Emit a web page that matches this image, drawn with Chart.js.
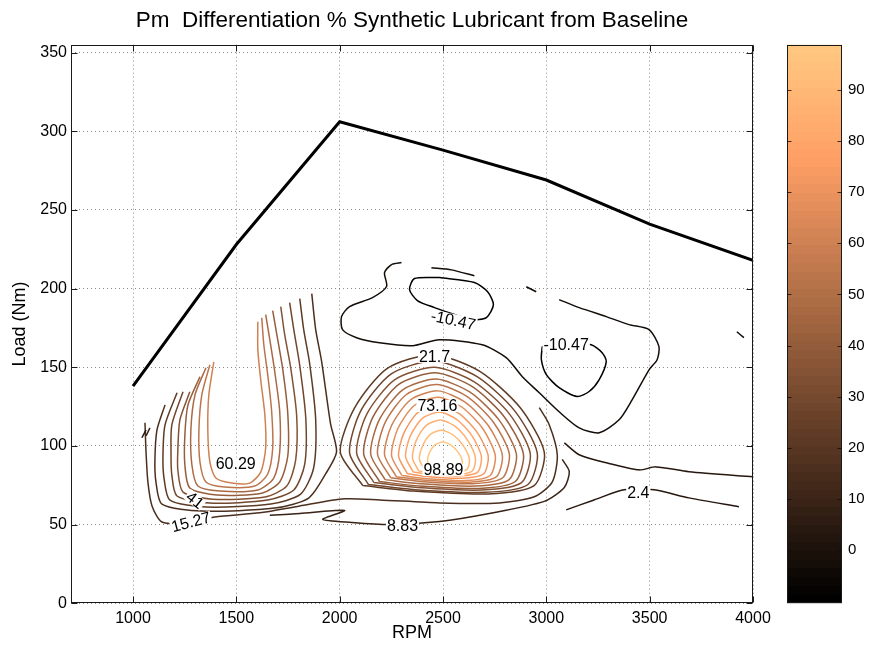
<!DOCTYPE html>
<html>
<head>
<meta charset="utf-8">
<title>Pm Differentiation % Synthetic Lubricant from Baseline</title>
<script src="https://cdn.jsdelivr.net/npm/chart.js@4.4.1/dist/chart.umd.min.js"></script>
<style>
  html, body { margin: 0; padding: 0; background: #fff; }
  #wrap { position: relative; width: 869px; height: 650px; }
  #plot { position: absolute; left: 0; top: 0; width: 869px; height: 650px; }
  #bar { position: absolute; left: 770px; top: 0; width: 99px; height: 650px; }
</style>
</head>
<body>
<div id="wrap">
  <canvas id="plot" width="869" height="650"></canvas>
  <canvas id="bar" width="99" height="650"></canvas>
</div>
<script>
// contour levels (Pm difference, %)
const LEVELS = [-10.47, -4.03, 2.4, 8.83, 15.27, 21.7, 28.13, 34.57, 41, 47.43,
                53.86, 60.29, 66.73, 73.16, 79.59, 86.03, 92.46, 98.89];
const RPM_TICKS = [1000, 1500, 2000, 2500, 3000, 3500, 4000];
const LOAD_TICKS = [0, 50, 100, 150, 200, 250, 300, 350];
const BAR_TICKS = [0, 10, 20, 30, 40, 50, 60, 70, 80, 90];

// full load curve
const torqueRpm = [1000, 1500, 2000, 2500, 3000, 3500, 4000];
const torqueLoad = [138, 228, 306, 288, 269, 241, 218];

// contour lines, flat [rpm, load, rpm, load, ...]
// rings around the main peak near 2500 rpm
const center5  = [2112,74.8, 2003,96.1, 2073,124.4, 2229,149.2, 2453,158, 2678,147.4, 2873,124.4, 2990,96.1, 2941,74.8, 2717,69.5, 2356,71.3, 2112,74.8];
const center6  = [2139,75.5, 2048,95.6, 2102,122.3, 2248,145.7, 2457,154, 2665,144, 2847,122.3, 2956,95.6, 2911,75.5, 2702,70.5, 2366,72.2, 2139,75.5];
const center7  = [2166,76.7, 2082,95.4, 2132,120.4, 2267,142.2, 2460,150, 2653,140.6, 2821,120.4, 2922,95.4, 2880,76.7, 2687,72, 2376,73.6, 2166,76.7];
const center8  = [2193,77.4, 2116,95, 2162,118.6, 2286,139.2, 2464,146.5, 2642,137.7, 2796,118.6, 2889,95, 2850,77.4, 2673,73, 2387,74.5, 2193,77.4];
const center9  = [2220,78.6, 2150,94.9, 2192,116.7, 2305,135.7, 2467,142.5, 2629,134.3, 2770,116.7, 2855,94.9, 2820,78.6, 2658,74.5, 2397,75.9, 2220,78.6];
const center10 = [2247,79.8, 2183,94.9, 2221,115.1, 2323,132.7, 2470,139, 2617,131.4, 2744,115.1, 2821,94.9, 2789,79.8, 2642,76, 2406,77.3, 2247,79.8];
const center11 = [2274,80.5, 2217,94.4, 2251,113, 2342,129.2, 2474,135, 2605,128, 2719,113, 2787,94.4, 2759,80.5, 2627,77, 2417,78.2, 2274,80.5];
const center12 = [2301,81.2, 2251,93.9, 2281,110.9, 2361,125.7, 2477,131, 2592,124.6, 2693,110.9, 2753,93.9, 2728,81.2, 2612,78, 2427,79.1, 2301,81.2];
const center13 = [2328,82.3, 2285,93.5, 2311,108.3, 2380,121.4, 2480,126, 2580,120.4, 2667,108.3, 2719,93.5, 2697,82.3, 2597,79.5, 2437,80.4, 2328,82.3];
const center14 = [2356,83.4, 2319,93.2, 2341,106.1, 2400,117.5, 2484,121.5, 2569,116.6, 2642,106.1, 2686,93.2, 2668,83.4, 2583,81, 2447,81.8, 2356,83.4];
const center15 = [2383,84.1, 2352,92.4, 2370,103.4, 2419,113.1, 2489,116.5, 2559,112.4, 2620,103.4, 2657,92.4, 2642,84.1, 2572,82, 2459,82.7, 2383,84.1];
const center16 = [2410,85.1, 2386,91.5, 2401,100, 2439,107.4, 2495,110, 2551,106.8, 2599,100, 2628,91.5, 2616,85.1, 2560,83.5, 2471,84, 2410,85.1];
const center17 = [2442,86, 2425,90.3, 2435,95.9, 2462,100.8, 2501,102.5, 2540,100.4, 2574,95.9, 2594,90.3, 2586,86, 2547,85, 2484,85.4, 2442,86];

// open U-shaped lines of the low-rpm hump, ending at the map edge
const left4  = [1155,126.1, 1116,110.2, 1106,91, 1111,77.1, 1140,63.1, 1333,58.6, 1686,60.5, 1850,66.9, 1932,82.2, 1985,96.2, 1956,114, 1913,153.5, 1884,173.9, 1865,196.8];
const left5  = [1213,133.8, 1155,113.4, 1145,94.3, 1150,79.6, 1179,65.6, 1353,61.2, 1667,63.1, 1811,69.4, 1874,86, 1884,116.6, 1855,152.2, 1826,173.9, 1807,193.6];
const left6  = [1242,134.4, 1188,113.4, 1184,94.3, 1188,81.5, 1213,68.2, 1372,63.7, 1652,65.6, 1778,72, 1831,88.5, 1836,117.8, 1807,151, 1778,173.9, 1758,191.1];
const left7  = [1275,134.4, 1227,116.6, 1217,97.5, 1217,84.7, 1242,70.7, 1386,66.2, 1638,67.5, 1744,74.5, 1787,91, 1792,119.1, 1763,149.7, 1734,170.7, 1715,188.6];
const left8  = [1324,144, 1266,126.1, 1251,107, 1251,87.9, 1275,73.3, 1406,68.8, 1623,70, 1710,77.1, 1749,93.6, 1749,120.4, 1725,148.4, 1696,170.7, 1676,186];
const left9  = [1353,149.7, 1300,132.5, 1280,110.2, 1285,87.9, 1314,74.5, 1420,71.3, 1604,72, 1681,79.6, 1710,96.2, 1710,121.7, 1686,147.1, 1662,167.5, 1642,183.5];
const left10 = [1372,151.6, 1333,132.5, 1319,110.2, 1324,89.8, 1353,77.1, 1444,73.9, 1589,74.5, 1652,82.2, 1676,98.7, 1671,121.7, 1652,145.2, 1633,164.3, 1623,181.5];
const left11 = [1391,153.5, 1367,132.5, 1362,110.2, 1372,89.8, 1401,79.6, 1478,76.4, 1565,76.4, 1618,83.4, 1642,98.7, 1638,119.8, 1618,142, 1604,161.2, 1604,179];

// outer lines
const band4  = [1058,114.7, 1063,96.3, 1072,77.2, 1092,61.9, 1140,51.7, 1275,51.1, 1396,54.9, 1613,57.5, 1807,61.9, 2024,66.4, 2193,65.7, 2483,63.8, 2773,63.8, 2942,67.7, 3029,77.2, 3053,94.4, 3014,113.5, 2966,124.3];
const band3  = [1662,55.9, 1807,57.1, 2024,59, 1918,53.3, 2058,51.4, 2241,50.1, 2483,52, 2724,57.1, 2990,64.8, 3087,73.6, 3111,83.7, 3077,91.4];
const shelf1 = [2299,216.6, 2251,215.3, 2217,210.2, 2227,201.3, 2159,194.3, 2048,188.6, 2009,182.2, 2014,173.9, 2082,168.8, 2193,165.6, 2352,163.7, 2483,167.5, 2690,164.3, 2806,156.1, 2884,144, 2966,133.8, 3062,121.7, 3159,111.5, 3256,108.4, 3352,116.6, 3415,129.3, 3497,148.4, 3536,154.8, 3545,163.1, 3497,173.9, 3400,177.1, 3290,182.2, 3159,187.9, 3062,193];
const tail2  = [3087,102, 3159,94.4, 3290,89.3, 3449,84.8, 3531,86.7, 3690,83.6, 4000,80.4];
const low2   = [3096,59.4, 3231,65.7, 3376,72.1, 3521,72.1, 3690,67, 3932,61.3];
const pitTop0   = [2483,207, 2362,206.4, 2338,199.4, 2376,192.4, 2459,187.9, 2555,183.5, 2637,180.3, 2710,181.6, 2744,189.8, 2715,198.1, 2652,203.9, 2483,207];
const pitRight0 = [2980,163.1, 3111,165.6, 3217,164.3, 3270,159.3, 3290,153.6, 3256,142.2, 3207,134.6, 3149,131.4, 3062,137, 3000,145.3, 2976,154.8, 2980,163.1];
const stub1a = [2444,213.2, 2541,211.9, 2652,208.1];
const stub1b = [2903,201.2, 2951,198];
const stub1c = [3922,172.6, 3956,168.8];
const edge2  = [1043,105.2, 1063,110.2];
const edge3  = [1063,106.4, 1082,111.5];

// level index for each line
const CONTOURS = [
  [0, pitTop0], [0, pitRight0], [1, shelf1], [1, stub1a], [1, stub1b], [1, stub1c],
  [2, tail2], [2, low2], [2, edge2], [3, edge3], [3, band3], [4, band4],
  [4, left4], [5, left5], [6, left6], [7, left7], [8, left8], [9, left9], [10, left10], [11, left11],
  [5, center5], [6, center6], [7, center7], [8, center8], [9, center9], [10, center10], [11, center11],
  [12, center12], [13, center13], [14, center14], [15, center15], [16, center16], [17, center17]
];

// inline contour labels
const labelLevel = [0, 0, 5, 13, 17, 11, 4, 3, 2, 8];
const labelRpm   = [2550, 3096, 2459, 2473, 2502, 1497, 1280, 2304, 3445, 1300];
const labelLoad  = [180, 164.3, 156.6, 125.4, 84.8, 88.8, 51.7, 49.2, 70.2, 65.7];
const labelTilt  = [12, 0, 0, 0, 0, 0, -15, 0, 0, 38];

const CB_MIN = LEVELS[0];
const CB_MAX = LEVELS[LEVELS.length - 1];
const FONT = '"Liberation Sans", Arial, Helvetica, sans-serif';

Chart.defaults.font.family = FONT;
Chart.defaults.color = '#000';

function copperAt(t) {
  t = Math.max(0, Math.min(1, t));
  const r = Math.round(255 * Math.min(1, 1.25 * t));
  const g = Math.round(255 * 0.7812 * t);
  const b = Math.round(255 * 0.4975 * t);
  return 'rgb(' + r + ',' + g + ',' + b + ')';
}

function copper(level) {
  return copperAt((level - CB_MIN) / (CB_MAX - CB_MIN));
}

function toPoints(flat) {
  const pts = [];
  for (let i = 0; i < flat.length; i += 2) pts.push({ x: flat[i], y: flat[i + 1] });
  return pts;
}

const datasets = CONTOURS.map(([lv, line]) => ({
  data: toPoints(line),
  showLine: true,
  borderColor: copper(LEVELS[lv]),
  borderWidth: 1.5,
  pointRadius: 0,
  tension: 0.25,
  fill: false
}));

datasets.push({
  data: torqueRpm.map((r, i) => ({ x: r, y: torqueLoad[i] })),
  showLine: true,
  borderColor: '#000',
  borderWidth: 3,
  pointRadius: 0,
  tension: 0
});

const contourLabels = {
  id: 'contourLabels',
  afterDatasetsDraw(chart) {
    const { ctx, scales: { x, y } } = chart;
    ctx.save();
    ctx.font = '16px ' + FONT;
    ctx.textAlign = 'center';
    ctx.textBaseline = 'middle';
    labelLevel.forEach((lv, i) => {
      const text = String(LEVELS[lv]);
      const px = x.getPixelForValue(labelRpm[i]);
      const py = y.getPixelForValue(labelLoad[i]);
      const w = ctx.measureText(text).width;
      ctx.save();
      ctx.translate(px, py);
      ctx.rotate(labelTilt[i] * Math.PI / 180);
      ctx.fillStyle = '#fff';
      ctx.fillRect(-w / 2 - 1, -6, w + 2, 12);
      ctx.fillStyle = '#000';
      ctx.fillText(text, 0, 1);
      ctx.restore();
    });
    ctx.restore();
  }
};

// axes box with inward ticks on all four sides
const frameTicks = {
  id: 'frameTicks',
  afterDraw(chart) {
    const { ctx, chartArea: a, scales: { x, y } } = chart;
    const L = Math.round(a.left) + 0.5, R = Math.round(a.right) - 0.5;
    const T = Math.round(a.top) + 0.5, B = Math.round(a.bottom) - 0.5;
    ctx.save();
    ctx.strokeStyle = '#1a1a1a';
    ctx.lineWidth = 1;
    ctx.strokeRect(L, T, R - L, B - T);
    ctx.beginPath();
    RPM_TICKS.forEach(v => {
      const px = Math.round(x.getPixelForValue(v)) + 0.5;
      ctx.moveTo(px, B); ctx.lineTo(px, B - 6);
      ctx.moveTo(px, T); ctx.lineTo(px, T + 6);
    });
    LOAD_TICKS.forEach(v => {
      const py = Math.round(y.getPixelForValue(v)) + 0.5;
      ctx.moveTo(L, py); ctx.lineTo(L + 6, py);
      ctx.moveTo(R, py); ctx.lineTo(R - 6, py);
    });
    ctx.stroke();
    ctx.restore();
  }
};

new Chart(document.getElementById('plot'), {
  type: 'scatter',
  data: { datasets },
  options: {
    responsive: false,
    animation: false,
    layout: { padding: { left: 0, right: 116, top: 0, bottom: 0 } },
    plugins: {
      legend: { display: false },
      tooltip: { enabled: false },
      title: {
        display: true,
        fullSize: false,
        text: 'Pm  Differentiation % Synthetic Lubricant from Baseline',
        color: '#000',
        font: { size: 22.5, weight: 'normal' },
        padding: { top: 7.5, bottom: 10.2 }
      }
    },
    scales: {
      x: {
        type: 'linear',
        min: 700,
        max: 4000,
        afterBuildTicks: s => { s.ticks = RPM_TICKS.map(v => ({ value: v })); },
        afterFit: s => { s.height = 46.7; },
        grid: { color: 'rgba(0,0,0,0.45)', drawTicks: false },
        border: { display: false, dash: [1, 3] },
        ticks: { font: { size: 16 }, padding: 6, autoSkip: false, maxRotation: 0, callback: v => String(v) },
        title: { display: true, text: 'RPM', font: { size: 18 }, padding: { top: 0, bottom: 6 } }
      },
      y: {
        type: 'linear',
        min: 0,
        max: 355,
        afterBuildTicks: s => { s.ticks = LOAD_TICKS.map(v => ({ value: v })); },
        afterFit: s => { s.width = 71; },
        grid: { color: 'rgba(0,0,0,0.45)', drawTicks: false },
        border: { display: false, dash: [1, 3] },
        ticks: { font: { size: 16 }, padding: 4, callback: v => String(v) },
        title: { display: true, text: 'Load (Nm)', font: { size: 18 }, padding: { top: 9, bottom: 0 } }
      }
    }
  },
  plugins: [contourLabels, frameTicks]
});

// colour bar
function copperBands(chart) {
  if (!chart.chartArea) return copperAt(1);
  const y = chart.scales.y;
  const g = chart.ctx.createLinearGradient(0, y.getPixelForValue(CB_MIN), 0, y.getPixelForValue(CB_MAX));
  const n = 64;
  for (let k = 0; k < n; k++) {
    const c = copperAt(k / (n - 1));
    g.addColorStop(k / n, c);
    g.addColorStop((k + 1) / n, c);
  }
  return g;
}

const barFrame = {
  id: 'barFrame',
  afterDraw(chart) {
    const { ctx, chartArea: a, scales: { y } } = chart;
    const L = Math.round(a.left) + 0.5, R = Math.round(a.right) - 0.5;
    const T = Math.round(a.top) + 0.5, B = Math.round(a.bottom) - 0.5;
    ctx.save();
    ctx.strokeStyle = '#1a1a1a';
    ctx.lineWidth = 1;
    ctx.strokeRect(L, T, R - L, B - T);
    ctx.strokeStyle = 'rgba(20,10,5,0.8)';
    ctx.beginPath();
    BAR_TICKS.forEach(v => {
      const py = Math.round(y.getPixelForValue(v)) + 0.5;
      ctx.moveTo(L, py); ctx.lineTo(L + 4, py);
      ctx.moveTo(R, py); ctx.lineTo(R - 4, py);
    });
    ctx.stroke();
    ctx.restore();
  }
};

new Chart(document.getElementById('bar'), {
  type: 'bar',
  data: {
    labels: [''],
    datasets: [{
      data: [[CB_MIN, CB_MAX]],
      backgroundColor: c => copperBands(c.chart),
      borderWidth: 0,
      barPercentage: 1,
      categoryPercentage: 1
    }]
  },
  options: {
    responsive: false,
    animation: false,
    layout: { padding: { left: 17, right: 0, top: 44.7, bottom: 46.7 } },
    plugins: { legend: { display: false }, tooltip: { enabled: false } },
    scales: {
      x: { display: false },
      y: {
        position: 'right',
        min: CB_MIN,
        max: CB_MAX,
        afterBuildTicks: s => { s.ticks = BAR_TICKS.map(v => ({ value: v })); },
        afterFit: s => { s.width = 27; },
        grid: { display: false, drawTicks: false },
        border: { display: false },
        ticks: { font: { size: 15 }, padding: 6 }
      }
    }
  },
  plugins: [barFrame]
});
</script>
</body>
</html>
